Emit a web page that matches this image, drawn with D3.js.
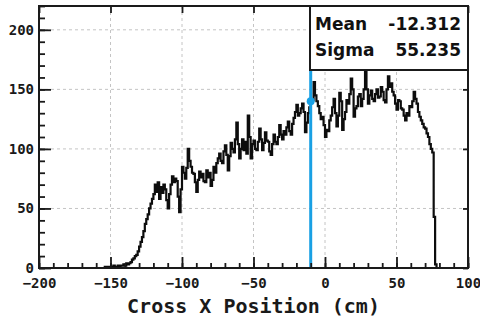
<!DOCTYPE html>
<html>
<head>
<meta charset="utf-8">
<script src="https://cdn.jsdelivr.net/npm/d3@7"></script>
<style>
  html, body { margin: 0; padding: 0; background: #fff; }
  svg { display: block; }
</style>
</head>
<body>
<svg id="chart" width="480" height="320"></svg>
<script>
// Histogram of cross X position: 1 cm bins starting at -156 cm
const binStart = -156;
const binWidth = 1;
const counts = [
  0, 0, 1, 0, 1, 1, 0, 1, 2, 1,
  1, 2, 1, 2, 2, 3, 2, 4, 3, 4,
  5, 7, 8, 10, 11, 14, 18, 22, 26, 31,
  37, 41, 45, 50, 54, 58, 62, 70, 64, 72,
  58, 68, 63, 70, 66, 57, 50, 62, 70, 77,
  72, 75, 73, 60, 47, 66, 85, 80, 75, 84,
  100, 90, 85, 80, 79, 72, 64, 74, 81, 76,
  79, 73, 72, 82, 76, 80, 69, 74, 85, 80,
  88, 92, 96, 90, 88, 98, 103, 95, 82, 94,
  105, 100, 97, 108, 122, 104, 92, 100, 108, 99,
  106, 96, 128, 110, 92, 104, 107, 100, 99, 106,
  117, 108, 99, 105, 114, 107, 106, 98, 95, 104,
  112, 106, 104, 110, 120, 112, 108, 115, 112, 118,
  123, 115, 112, 121, 126, 131, 137, 128, 130, 134,
  138, 131, 114, 122, 130, 135, 140, 141, 156, 145,
  140, 136, 130, 125, 127, 120, 110, 116, 115, 124,
  128, 135, 142, 130, 119, 128, 147, 140, 116, 125,
  131, 141, 138, 146, 159, 150, 127, 134, 136, 144,
  146, 136, 142, 150, 168, 150, 138, 145, 149, 142,
  140, 146, 150, 143, 144, 152, 148, 141, 139, 150,
  161, 152, 155, 148, 145, 138, 133, 141, 140, 134,
  133, 128, 124, 130, 128, 136, 135, 140, 148, 142,
  138, 131, 127, 124, 121, 118, 117, 113, 110, 104,
  100, 97, 43, 3
];

const xMajorTicks = [-200, -150, -100, -50, 0, 50, 100];
const yMajorTicks = [0, 50, 100, 150, 200];
const xDomain = [-200, 100];
const yDomain = [0, 220];
const xTitle = "Cross X Position (cm)";
const statNames = ["Mean", "Sigma"];
const statValues = ["-12.312", "55.235"];
const cursorX = -10;

const svg = d3.select("#chart");
const plotL = 39, plotR = 468, plotT = 6, plotB = 268;
const ink = "#1a1a1a";
const monoFont = "'DejaVu Sans Mono', monospace";
const sansFont = "'DejaVu Sans', sans-serif";

const x = d3.scaleLinear().domain(xDomain).range([plotL, plotR]);
const y = d3.scaleLinear().domain(yDomain).range([plotB, plotT]);

// dashed grid at the major ticks
const grid = svg.append("g")
  .attr("stroke", "#c4c4c4").attr("stroke-width", 1).attr("stroke-dasharray", "3,3");
grid.selectAll("line.gx")
  .data(xMajorTicks.filter(v => v > xDomain[0] && v < xDomain[1]))
  .join("line")
  .attr("x1", d => x(d)).attr("x2", d => x(d))
  .attr("y1", plotT).attr("y2", plotB);
grid.selectAll("line.gy")
  .data(yMajorTicks.filter(v => v > yDomain[0]))
  .join("line")
  .attr("x1", plotL).attr("x2", plotR)
  .attr("y1", d => y(d)).attr("y2", d => y(d));

// histogram outline as a step path
const verts = [[binStart, 0]];
counts.forEach((c, i) => {
  const s = binStart + i * binWidth;
  verts.push([s, c], [s + binWidth, c]);
});
verts.push([binStart + counts.length * binWidth, 0]);

svg.append("path")
  .datum(verts)
  .attr("fill", "none")
  .attr("stroke", "#0d0d0d")
  .attr("stroke-width", 2.2)
  .attr("stroke-linejoin", "miter")
  .attr("d", d3.line().x(d => x(d[0])).y(d => y(d[1])));

// cursor line with marker on the histogram
const cursorBin = Math.floor((cursorX - binStart) / binWidth);
const blue = "#19a0e4";
svg.append("line")
  .attr("x1", x(cursorX)).attr("x2", x(cursorX))
  .attr("y1", y(0)).attr("y2", y(yDomain[1]))
  .attr("stroke", blue).attr("stroke-width", 3);
svg.append("circle")
  .attr("cx", x(cursorX)).attr("cy", y(counts[cursorBin]))
  .attr("r", 4).attr("fill", blue);

// axes with inward ticks
function styleAxis(g) {
  g.select(".domain").remove();
  g.selectAll(".tick line").attr("stroke", ink).attr("stroke-width", 1.8);
  g.selectAll(".tick text")
    .attr("fill", ink)
    .style("font-family", monoFont)
    .style("font-weight", "bold")
    .style("font-size", "14px");
}

svg.append("g")
  .attr("transform", `translate(0,${plotB})`)
  .call(d3.axisBottom(x).tickValues(d3.range(-200, 101, 10)).tickSize(-5).tickFormat(""))
  .call(styleAxis);
svg.append("g")
  .attr("transform", `translate(0,${plotB})`)
  .call(d3.axisBottom(x).tickValues(xMajorTicks).tickSize(-11).tickPadding(10).tickFormat(d3.format("d")))
  .call(styleAxis);

svg.append("g")
  .attr("transform", `translate(${plotL},0)`)
  .call(d3.axisLeft(y).tickValues(d3.range(0, 221, 10)).tickSize(-6).tickFormat(""))
  .call(styleAxis);
svg.append("g")
  .attr("transform", `translate(${plotL},0)`)
  .call(d3.axisLeft(y).tickValues(yMajorTicks).tickSize(-12).tickPadding(5).tickFormat(d3.format("d")))
  .call(styleAxis);

svg.append("g")
  .attr("transform", `translate(0,${plotT})`)
  .call(d3.axisTop(x).tickValues(xMajorTicks).tickSize(-7).tickFormat(""))
  .call(styleAxis);
svg.append("g")
  .attr("transform", `translate(${plotR},0)`)
  .call(d3.axisRight(y).tickValues(yMajorTicks).tickSize(-5).tickFormat(""))
  .call(styleAxis);

// frame
svg.append("rect")
  .attr("x", plotL).attr("y", plotT)
  .attr("width", plotR - plotL).attr("height", plotB - plotT)
  .attr("fill", "none").attr("stroke", ink).attr("stroke-width", 2);

// x-axis title
svg.append("text")
  .attr("x", (plotL + plotR) / 2).attr("y", 313)
  .attr("text-anchor", "middle")
  .attr("fill", ink)
  .style("font-family", monoFont)
  .style("font-weight", "bold")
  .style("font-size", "20px")
  .text(xTitle);

// statistics box
const boxX = 310, boxW = plotR - 310, boxH = 64;
svg.append("rect")
  .attr("x", boxX).attr("y", plotT)
  .attr("width", boxW).attr("height", boxH)
  .attr("fill", "#fff").attr("stroke", ink).attr("stroke-width", 2);

const rows = svg.append("g")
  .style("font-family", sansFont)
  .style("font-weight", "bold")
  .style("font-size", "17px")
  .attr("fill", "#111");
rows.selectAll("text.name")
  .data(statNames)
  .join("text")
  .attr("x", boxX + 5)
  .attr("y", (d, i) => 30 + i * 26)
  .text(d => d);
rows.selectAll("text.val")
  .data(statValues)
  .join("text")
  .attr("x", plotR - 7)
  .attr("y", (d, i) => 30 + i * 26)
  .attr("text-anchor", "end")
  .text(d => d);
</script>
</body>
</html>
